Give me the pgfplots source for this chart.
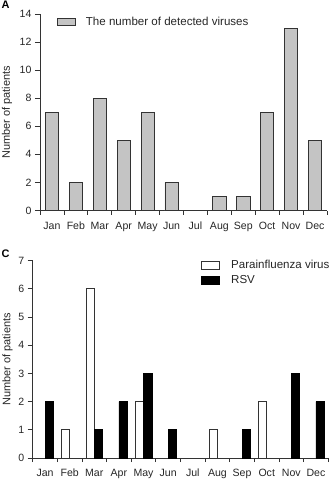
\documentclass[border=0pt]{standalone}
\usepackage{pgfplots}
\pgfplotsset{compat=1.18}
\usepackage{fontspec}
\setmainfont{Liberation Sans}
\definecolor{barfill}{HTML}{C4C4C4}
\definecolor{edge}{HTML}{333333}

% legend swatch for bar plots: a plain box
\pgfplotsset{
  ybar legend/.style={
    legend image code/.code={\draw[##1] (0bp,-3.8bp) rectangle (17.5bp,3.8bp);}
  },
}

\pgfplotsset{
  monthaxis/.style={
    scale only axis,
    axis x line=bottom, axis y line=left,
    axis line style={-, edge, line width=0.8pt},
    tick style={edge, line width=0.8pt},
    tick align=outside,
    major tick length=5bp,
    minor tick length=4bp,
    xmin=-0.5, xmax=11.5, ymin=0,
    xtick={0,...,11},
    xticklabels={Jan,Feb,Mar,Apr,May,Jun,Jul,Aug,Sep,Oct,Nov,Dec},
    minor xtick={-0.5,0.5,...,11.5},
    every major x tick/.append style={draw=none},
    tick label style={font=\fontsize{10.6}{12}\selectfont, text=black!85},
    /pgf/number format/assume math mode=true,
    xticklabel style={yshift=-3bp, text height=0.74em, text depth=0.22em},
    label style={font=\fontsize{11}{12}\selectfont, text=black!85},
    legend style={draw=none, fill=none, inner sep=0pt, outer sep=0pt,
      font=\fontsize{11.6}{13}\selectfont, text=black!85,
      cells={anchor=west}, row sep=1bp},
    legend cell align=left,
  },
}

\begin{document}
\begin{tikzpicture}
\useasboundingbox (0,0) rectangle (331bp,-482bp);

% Panel A: all detected viruses per month
\begin{axis}[monthaxis,
  at={(40bp,-210.5bp)}, anchor=south west,
  width=287bp, height=196.5bp,
  ymax=14, ytick={0,2,...,14},
  ybar, bar width=0.55,
  ylabel={Number of patients},
  ylabel style={at={(axis description cs:-0.115,0.5)}, anchor=center},
  legend style={at={(axis description cs:0.060,0.995)}, anchor=north west},
]
\addplot[fill=barfill, draw=edge, line width=0.7pt] coordinates {
  (0,7) (1,2) (2,8) (3,5) (4,7) (5,2) (7,1) (8,1) (9,7) (10,13) (11,5)
};
\addlegendentry{\hspace*{8.5bp}The number of detected viruses}
\end{axis}

% Panel C: parainfluenza virus and RSV per month
\begin{axis}[monthaxis,
  at={(32.7bp,-458bp)}, anchor=south west,
  width=295.6bp, height=197.5bp,
  ymax=7, ytick={0,...,7},
  ybar=0pt, bar width=0.34,
  ylabel={Number of patients},
  ylabel style={at={(axis description cs:-0.085,0.5)}, anchor=center},
  legend style={at={(axis description cs:0.571,1.01)}, anchor=north west},
]
\addplot[fill=white, draw=edge, line width=0.7pt] coordinates {
  (1,1) (2,6) (4,2) (7,1) (9,2)
};
\addlegendentry{\hspace*{9.5bp}Parainfluenza virus}
\addplot[fill=black, draw=black, line width=0.7pt] coordinates {
  (0,2) (2,1) (3,2) (4,3) (5,1) (8,1) (10,3) (11,2)
};
\addlegendentry{\hspace*{9.5bp}RSV}
\end{axis}

\node[font=\bfseries\fontsize{11}{11}\selectfont, anchor=north west, inner sep=0pt] at (1.5bp,-0.5bp) {A};
\node[font=\bfseries\fontsize{11}{11}\selectfont, anchor=north west, inner sep=0pt] at (1.5bp,-249.5bp) {C};
\end{tikzpicture}
\end{document}
